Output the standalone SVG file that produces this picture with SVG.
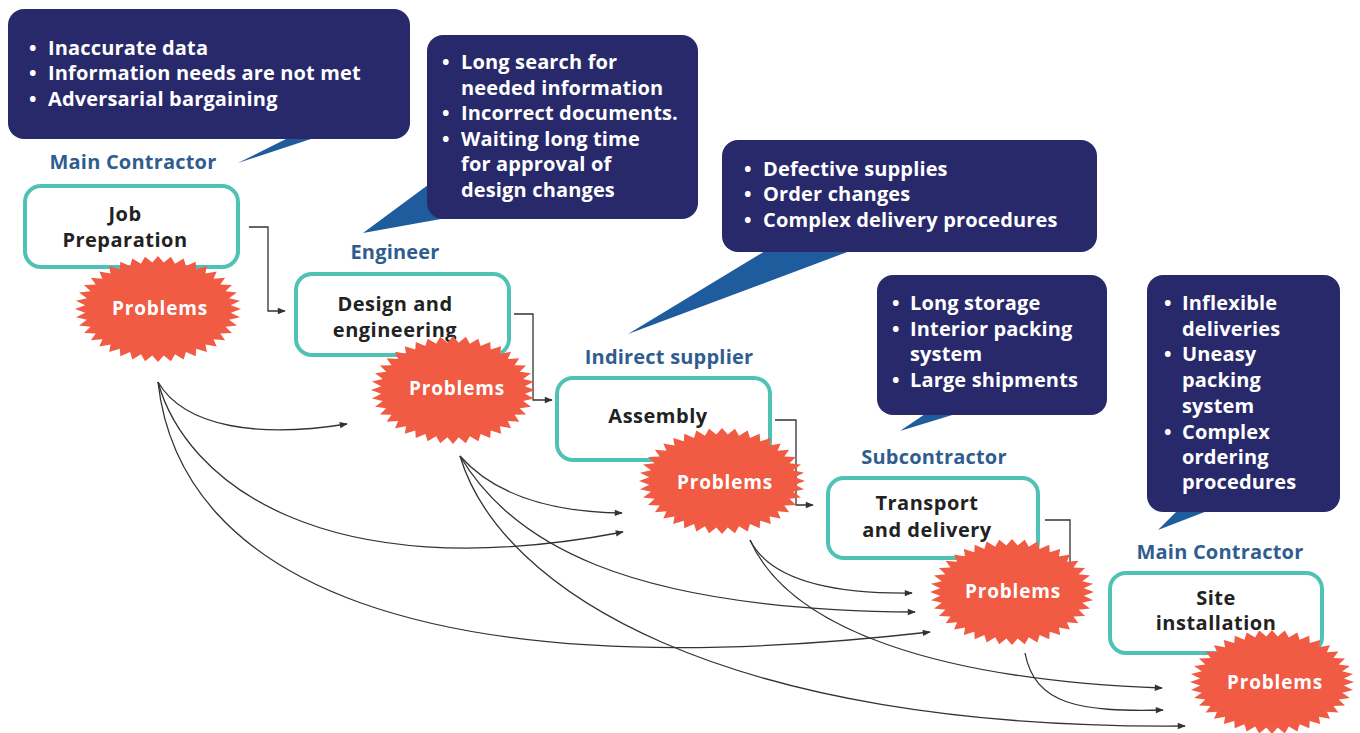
<svg xmlns="http://www.w3.org/2000/svg" xmlns:xlink="http://www.w3.org/1999/xlink" width="1360" height="733" viewBox="0 0 1360 733">
<style>
text{font-family:"Open Sans","Liberation Sans",sans-serif;font-weight:700}
.co{fill:#28296b}
.tail{fill:#1f5c9e}
.ct{fill:#ffffff;font-size:20px;letter-spacing:0.15px}
.lbl{fill:#2f5d90;font-size:20px;letter-spacing:0.2px;text-anchor:middle}
.box{fill:#ffffff;stroke:#4fc2b5;stroke-width:4}
.bt{fill:#222222;font-size:20px;letter-spacing:0.5px;text-anchor:middle}
.burst{fill:#f15a43}
.pt{fill:#ffffff;font-size:19px;letter-spacing:0.8px;text-anchor:middle}
.con{fill:none;stroke:#333333;stroke-width:1.3}
</style>
<defs>
<marker id="ah" viewBox="0 0 10 10" refX="9" refY="5" markerWidth="10" markerHeight="8" markerUnits="userSpaceOnUse" orient="auto">
<path d="M0,1 L10,5 L0,9 Z" fill="#333333"/>
</marker>
<polygon id="star" points="100,0 87.7,6.9 98.8,15.6 85.6,20.5 95.1,30.9 81.3,33.7 89.1,45.4 75,46 80.9,58.8 66.9,57.2 70.7,70.7 57.2,66.9 58.8,80.9 46,75 45.4,89.1 33.7,81.3 30.9,95.1 20.5,85.6 15.6,98.8 6.9,87.7 0,100 -6.9,87.7 -15.6,98.8 -20.5,85.6 -30.9,95.1 -33.7,81.3 -45.4,89.1 -46,75 -58.8,80.9 -57.2,66.9 -70.7,70.7 -66.9,57.2 -80.9,58.8 -75,46 -89.1,45.4 -81.3,33.7 -95.1,30.9 -85.6,20.5 -98.8,15.6 -87.7,6.9 -100,0 -87.7,-6.9 -98.8,-15.6 -85.6,-20.5 -95.1,-30.9 -81.3,-33.7 -89.1,-45.4 -75,-46 -80.9,-58.8 -66.9,-57.2 -70.7,-70.7 -57.2,-66.9 -58.8,-80.9 -46,-75 -45.4,-89.1 -33.7,-81.3 -30.9,-95.1 -20.5,-85.6 -15.6,-98.8 -6.9,-87.7 0,-100 6.9,-87.7 15.6,-98.8 20.5,-85.6 30.9,-95.1 33.7,-81.3 45.4,-89.1 46,-75 58.8,-80.9 57.2,-66.9 70.7,-70.7 66.9,-57.2 80.9,-58.8 75,-46 89.1,-45.4 81.3,-33.7 95.1,-30.9 85.6,-20.5 98.8,-15.6 87.7,-6.9"/>
</defs>
<rect width="1360" height="733" fill="#ffffff"/>

<g id="connectors">
<path class="con" d="M249,227 H268 V311 H285" marker-end="url(#ah)"/>
<path class="con" d="M514,314 H533 V400 H552" marker-end="url(#ah)"/>
<path class="con" d="M775,420 H796 V505 H813" marker-end="url(#ah)"/>
<path class="con" d="M1045,520 H1070 V570"/>
<path class="con" d="M158,382 C185,428 260,438 347,424" marker-end="url(#ah)"/>
<path class="con" d="M158,382 C185,480 320,590 623,532" marker-end="url(#ah)"/>
<path class="con" d="M158,382 C180,580 420,690 930,632" marker-end="url(#ah)"/>
<path class="con" d="M460,456 C490,490 540,512 622,513" marker-end="url(#ah)"/>
<path class="con" d="M460,456 C510,540 620,610 915,612" marker-end="url(#ah)"/>
<path class="con" d="M460,456 C500,590 720,730 1185,726" marker-end="url(#ah)"/>
<path class="con" d="M750,540 C770,580 830,594 912,593" marker-end="url(#ah)"/>
<path class="con" d="M750,540 C790,630 940,680 1162,688" marker-end="url(#ah)"/>
<path class="con" d="M1025,653 C1035,705 1080,712 1163,710" marker-end="url(#ah)"/>
</g>

<g id="callout1">
<polygon class="tail" points="238,163 292,136 320,136"/>
<rect class="co" x="8" y="9" width="402" height="130" rx="16"/>
<text class="ct"><tspan x="29" y="55">•</tspan><tspan x="48" y="55">Inaccurate data</tspan><tspan x="29" y="80">•</tspan><tspan x="48" y="80">Information needs are not met</tspan><tspan x="29" y="106">•</tspan><tspan x="48" y="106">Adversarial bargaining</tspan></text>
</g>
<g id="callout2">
<polygon class="tail" points="363,233 432,182 452,217"/>
<rect class="co" x="427" y="35" width="271" height="184" rx="16"/>
<text class="ct"><tspan x="442" y="69">•</tspan><tspan x="461" y="69">Long search for</tspan><tspan x="461" y="95">needed information</tspan><tspan x="442" y="120">•</tspan><tspan x="461" y="120">Incorrect documents.</tspan><tspan x="442" y="146">•</tspan><tspan x="461" y="146">Waiting long time</tspan><tspan x="461" y="171">for approval of</tspan><tspan x="461" y="197">design changes</tspan></text>
</g>
<g id="callout3">
<polygon class="tail" points="628,334 770,248 858,248"/>
<rect class="co" x="722" y="140" width="375" height="112" rx="16"/>
<text class="ct"><tspan x="744" y="176">•</tspan><tspan x="763" y="176">Defective supplies</tspan><tspan x="744" y="201">•</tspan><tspan x="763" y="201">Order changes</tspan><tspan x="744" y="227">•</tspan><tspan x="763" y="227">Complex delivery procedures</tspan></text>
</g>
<g id="callout4">
<polygon class="tail" points="900,431 928,412 962,412"/>
<rect class="co" x="877" y="275" width="230" height="140" rx="16"/>
<text class="ct"><tspan x="892" y="310">•</tspan><tspan x="910" y="310">Long storage</tspan><tspan x="892" y="336">•</tspan><tspan x="910" y="336">Interior packing</tspan><tspan x="910" y="361">system</tspan><tspan x="892" y="387">•</tspan><tspan x="910" y="387">Large shipments</tspan></text>
</g>
<g id="callout5">
<polygon class="tail" points="1158,530 1180,508 1215,508"/>
<rect class="co" x="1147" y="275" width="193" height="237" rx="16"/>
<text class="ct"><tspan x="1164" y="310">•</tspan><tspan x="1182" y="310">Inflexible</tspan><tspan x="1182" y="336">deliveries</tspan><tspan x="1164" y="361">•</tspan><tspan x="1182" y="361">Uneasy</tspan><tspan x="1182" y="387">packing</tspan><tspan x="1182" y="413">system</tspan><tspan x="1164" y="439">•</tspan><tspan x="1182" y="439">Complex</tspan><tspan x="1182" y="464">ordering</tspan><tspan x="1182" y="489">procedures</tspan></text>
</g>

<g id="job-preparation">
<text class="lbl" x="133" y="169">Main Contractor</text>
<rect class="box" x="25" y="186" width="213" height="81" rx="16"/>
<text class="bt" x="125" y="221">Job</text>
<text class="bt" x="125" y="247">Preparation</text>
</g>
<g id="design-engineering">
<text class="lbl" x="395" y="259">Engineer</text>
<rect class="box" x="296" y="274" width="213" height="81" rx="16"/>
<text class="bt" x="395" y="311">Design and</text>
<text class="bt" x="395" y="337">engineering</text>
</g>
<g id="assembly">
<text class="lbl" x="669" y="364">Indirect supplier</text>
<rect class="box" x="557" y="378" width="213" height="82" rx="16"/>
<text class="bt" x="658" y="423">Assembly</text>
</g>
<g id="transport-delivery">
<text class="lbl" x="934" y="464">Subcontractor</text>
<rect class="box" x="828" y="478" width="210" height="80" rx="16"/>
<text class="bt" x="927" y="510">Transport</text>
<text class="bt" x="927" y="537">and delivery</text>
</g>
<g id="site-installation">
<text class="lbl" x="1220" y="559">Main Contractor</text>
<rect class="box" x="1110" y="573" width="212" height="80" rx="16"/>
<text class="bt" x="1216" y="605">Site</text>
<text class="bt" x="1216" y="630">installation</text>
</g>

<g id="problems1">
<use xlink:href="#star" class="burst" transform="translate(158,309) scale(0.83,0.53)"/>
<text class="pt" x="160" y="315">Problems</text>
</g>
<g id="problems2">
<use xlink:href="#star" class="burst" transform="translate(453,390) scale(0.82,0.54)"/>
<text class="pt" x="457" y="395">Problems</text>
</g>
<g id="problems3">
<use xlink:href="#star" class="burst" transform="translate(722,481) scale(0.83,0.53)"/>
<text class="pt" x="725" y="489">Problems</text>
</g>
<g id="problems4">
<use xlink:href="#star" class="burst" transform="translate(1012,592) scale(0.82,0.53)"/>
<text class="pt" x="1013" y="598">Problems</text>
</g>
<g id="problems5">
<use xlink:href="#star" class="burst" transform="translate(1272,682) scale(0.82,0.52)"/>
<text class="pt" x="1275" y="689">Problems</text>
</g>
</svg>
